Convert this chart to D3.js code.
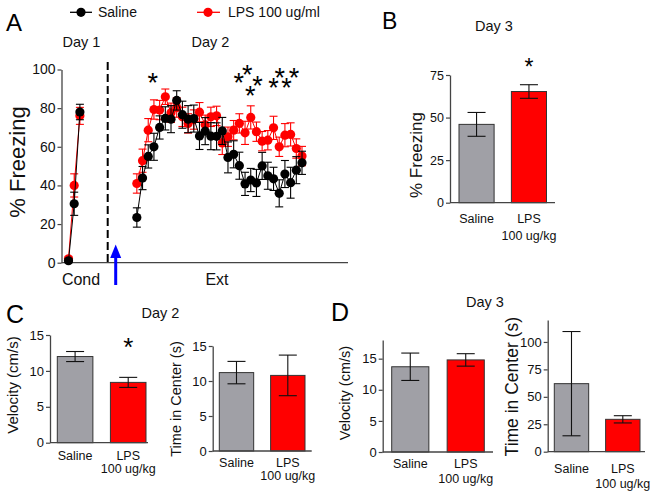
<!DOCTYPE html>
<html>
<head>
<meta charset="utf-8">
<script src="https://cdn.jsdelivr.net/npm/d3@7/dist/d3.min.js"></script>
<style>
html,body{margin:0;padding:0;background:#fff;}
svg{display:block;font-family:"Liberation Sans",Arial,sans-serif;}
</style>
</head>
<body>
<svg id="chart" width="654" height="497"></svg>
<script>
// ---------- DATA ----------
// Panel A: conditioning (Day 1) and extinction (Day 2) freezing, %
const condSaline    = [1, 30.5, 78];
const condSalineErr = [1, 6, 4];
const condLPS       = [2, 40, 76];
const condLPSErr    = [1, 6, 4.4];
const extSaline = [23.4, 43.8, 55, 60, 70, 74.7, 74.3, 84, 76.6, 74.3, 74.6, 65.6, 68.1, 65.5, 65.4,
                   68.2, 54.5, 56.1, 50.2, 40.8, 42.8, 41.3, 50.1, 45, 43.4, 35.9, 45.9, 41.4, 47.9, 51.7];
const extSalineErr = [5, 6, 6, 7, 6, 6, 7, 5, 7, 7, 7, 7, 7, 7, 7,
                      7, 8, 7, 7, 6, 6, 7, 7, 7, 6, 7, 7, 8, 7, 6];
const extLPS = [41, 52.8, 68.6, 79.3, 79, 85.9, 77.6, 80.3, 75.5, 72.1, 74.1, 77.9, 71.4, 75.5, 76,
                62, 65.2, 68.6, 72.1, 67.2, 75.2, 67.8, 62.9, 63.4, 69.8, 60, 66, 66.4, 59.1, 55.2];
const extLPSErr = [5, 6, 6, 5, 5, 4, 5, 5, 5, 5, 5, 5, 5, 5, 5,
                   6, 5, 5, 5, 6, 6, 5, 5, 5, 6, 5, 6, 6, 5, 5];
const extStartIndex = 12;            // trial index of first extinction trial on shared x scale
const freezeTicks = [0, 20, 40, 60, 80, 100];
// significance stars in panel A: [trial index, % level]
const starsA = [[14.8, 96.3], [29.9, 96.3], [31.4, 100.3], [33.2, 94.9], [31.9, 89.4],
                [36.0, 93.7], [37.1, 98.9], [38.3, 93.7], [39.6, 98.9]];

// Bar panels
const groups = ["Saline", "LPS"];
const groupLabels = [["Saline"], ["LPS", "100 ug/kg"]];
const freezeDay3 = [46, 65.3],   freezeDay3Err = [7, 4];
const velDay2    = [12, 8.4],    velDay2Err    = [0.7, 0.7];
const centerDay2 = [11.2, 10.8], centerDay2Err = [1.6, 2.9];
const velDay3    = [13.7, 14.8], velDay3Err    = [2.2, 1.0];
const centerDay3 = [62, 29.5],   centerDay3Err = [47.5, 3.3];
const ticksB  = [0, 25, 50, 75];
const ticks15 = [0, 5, 10, 15];
const ticksDR = [0, 25, 50, 75, 100];

// ---------- STYLE ----------
const AX = "#444";
const RED = "#ff0000";
const GRAY = "#a0a0a6";
const svg = d3.select("#chart");

function txt(x, y, s, size, anchor = "middle", fill = "#111") {
  return svg.append("text").attr("x", x).attr("y", y).attr("font-size", size)
    .attr("text-anchor", anchor).attr("fill", fill).text(s);
}
function ylabel(x, cy, s, size) {
  svg.append("text").attr("transform", `translate(${x},${cy}) rotate(-90)`)
    .attr("text-anchor", "middle").attr("font-size", size).attr("fill", "#111").text(s);
}
function styleAxis(g, fs) {
  g.select(".domain").attr("stroke", AX).attr("stroke-width", 1.3);
  g.selectAll(".tick line").attr("stroke", AX).attr("stroke-width", 1.2);
  g.selectAll(".tick text").attr("font-size", fs).attr("fill", "#111")
    .attr("font-family", '"Liberation Sans",Arial,sans-serif');
}

// ---------- PANEL A ----------
const xA = d3.scaleLinear().domain([0, 41]).range([68.5, 302]);
const yA = d3.scaleLinear().domain([0, 100]).range([262.7, 69.5]);

const gYA = svg.append("g").attr("transform", "translate(61.5,0)")
  .call(d3.axisLeft(yA).tickValues(freezeTicks).tickSize(4).tickSizeOuter(0).tickPadding(2));
styleAxis(gYA, 14);
svg.append("line").attr("x1", 61.5).attr("x2", 348).attr("y1", yA(0)).attr("y2", yA(0))
  .attr("stroke", AX).attr("stroke-width", 1.3);

// dashed separator and arrow
svg.append("line").attr("x1", 107.7).attr("x2", 107.7).attr("y1", 62).attr("y2", yA(0))
  .attr("stroke", "#000").attr("stroke-width", 2).attr("stroke-dasharray", "8,4");
svg.append("line").attr("x1", 115.7).attr("x2", 115.7).attr("y1", 257).attr("y2", 285)
  .attr("stroke", "#0000ff").attr("stroke-width", 3);
svg.append("path").attr("d", "M110.2,258 L121.2,258 L115.7,244.5 Z").attr("fill", "#0000ff");

function seriesA(vals, errs, offset, color, capColor) {
  const pts = vals.map((v, i) => ({x: xA(i + offset), y: yA(v), lo: yA(v - errs[i]), hi: yA(v + errs[i])}));
  const g = svg.append("g");
  pts.forEach(p => {
    g.append("line").attr("x1", p.x).attr("x2", p.x).attr("y1", p.lo).attr("y2", p.hi).attr("stroke", capColor).attr("stroke-width", 1.1);
    g.append("line").attr("x1", p.x - 4).attr("x2", p.x + 4).attr("y1", p.lo).attr("y2", p.lo).attr("stroke", capColor).attr("stroke-width", 1.1);
    g.append("line").attr("x1", p.x - 4).attr("x2", p.x + 4).attr("y1", p.hi).attr("y2", p.hi).attr("stroke", capColor).attr("stroke-width", 1.1);
  });
  g.append("path").datum(pts).attr("d", d3.line().x(d => d.x).y(d => d.y))
    .attr("fill", "none").attr("stroke", capColor).attr("stroke-width", 1);
  g.selectAll("circle").data(pts).join("circle").attr("cx", d => d.x).attr("cy", d => d.y)
    .attr("r", 4.6).attr("fill", color);
}
seriesA(condLPS, condLPSErr, 0, RED, RED);
seriesA(extLPS, extLPSErr, extStartIndex, RED, RED);
seriesA(condSaline, condSalineErr, 0, "#000", "#000");
seriesA(extSaline, extSalineErr, extStartIndex, "#000", "#000");

starsA.forEach(s => txt(xA(s[0]), yA(s[1]) + 15.5, "*", 27, "middle", "#000"));

ylabel(25, 162, "% Freezing", 22);
txt(81.5, 47, "Day 1", 14.5);
txt(210.5, 47, "Day 2", 14.5);
txt(81, 285, "Cond", 16);
txt(217, 285, "Ext", 16);
txt(6, 30.7, "A", 24, "start", "#000");

// legend
svg.append("line").attr("x1", 70).attr("x2", 92).attr("y1", 12.3).attr("y2", 12.3).attr("stroke", "#000").attr("stroke-width", 1.3);
svg.append("circle").attr("cx", 81).attr("cy", 12.3).attr("r", 4.6).attr("fill", "#000");
txt(98, 17, "Saline", 14, "start");
svg.append("line").attr("x1", 197).attr("x2", 220).attr("y1", 12.3).attr("y2", 12.3).attr("stroke", RED).attr("stroke-width", 1.3);
svg.append("circle").attr("cx", 208).attr("cy", 12.3).attr("r", 4.6).attr("fill", RED);
txt(228, 17, "LPS 100 ug/ml", 14, "start");

// ---------- BAR PANELS ----------
function barPanel(c) {
  const x = d3.scaleBand().domain(groups).range(c.bars).paddingInner(0.33).paddingOuter(0);
  const y = d3.scaleLinear().domain([0, c.max]).range(c.yr);
  const g = svg.append("g");
  groups.forEach((gname, i) => {
    const bx = x(gname), bw = x.bandwidth(), cx = bx + bw / 2;
    g.append("rect").attr("x", bx).attr("y", y(c.vals[i])).attr("width", bw)
      .attr("height", y(0) - y(c.vals[i])).attr("fill", i === 0 ? GRAY : RED)
      .attr("stroke", "#333").attr("stroke-width", 1);
    const lo = y(c.vals[i] - c.errs[i]), hi = y(c.vals[i] + c.errs[i]);
    g.append("line").attr("x1", cx).attr("x2", cx).attr("y1", lo).attr("y2", hi).attr("stroke", "#111").attr("stroke-width", 1.1);
    [lo, hi].forEach(yy => g.append("line").attr("x1", cx - 9).attr("x2", cx + 9).attr("y1", yy).attr("y2", yy).attr("stroke", "#111").attr("stroke-width", 1.1));
    groupLabels[i].forEach((s, k) => txt(cx, c.lab[k], s, 12.5));
  });
  const ga = svg.append("g").attr("transform", `translate(${c.axisX},0)`)
    .call(d3.axisLeft(y).tickValues(c.ticks).tickSize(4).tickSizeOuter(0).tickPadding(2));
  styleAxis(ga, c.tickFs);
  svg.append("line").attr("x1", c.axisX).attr("x2", c.axisEnd).attr("y1", y(0)).attr("y2", y(0))
    .attr("stroke", AX).attr("stroke-width", 1.3);
  ylabel(c.ylx, c.yly, c.ylab, c.ylfs);
  if (c.star) txt(x(groups[1]) + x.bandwidth() / 2, c.star, "*", c.starFs, "middle", "#000");
}

// B
barPanel({bars: [459, 546.5], yr: [202.7, 75], max: 75, ticks: ticksB, vals: freezeDay3, errs: freezeDay3Err,
  axisX: 450, axisEnd: 555, lab: [222.7, 240], ylab: "% Freezing", ylx: 422, yly: 155, ylfs: 17, tickFs: 12.5,
  star: 74.5, starFs: 23});
txt(382, 29.3, "B", 23, "start", "#000");
txt(494, 31, "Day 3", 14.5);

// C left
barPanel({bars: [57.3, 146], yr: [442.7, 335], max: 15, ticks: ticks15, vals: velDay2, errs: velDay2Err,
  axisX: 50, axisEnd: 148, lab: [460, 472.7], ylab: "Velocity (cm/s)", ylx: 18, yly: 385, ylfs: 15, tickFs: 13,
  star: 356, starFs: 26});
// C right
barPanel({bars: [219.3, 305], yr: [451, 346], max: 15, ticks: ticks15, vals: centerDay2, errs: centerDay2Err,
  axisX: 212.7, axisEnd: 311.7, lab: [466.7, 480], ylab: "Time in Center (s)", ylx: 180.5, yly: 399, ylfs: 14.5, tickFs: 13});
txt(6, 323, "C", 25, "start", "#000");
txt(160.5, 318.3, "Day 2", 14.5);

// D left
barPanel({bars: [391.7, 484.3], yr: [452, 340], max: 18, ticks: ticks15, vals: velDay3, errs: velDay3Err,
  axisX: 382.7, axisEnd: 493, lab: [468.3, 483.3], ylab: "Velocity (cm/s)", ylx: 350, yly: 393, ylfs: 14.5, tickFs: 13});
// D right
barPanel({bars: [554.3, 640], yr: [451.7, 320], max: 120, ticks: ticksDR, vals: centerDay3, errs: centerDay3Err,
  axisX: 547.7, axisEnd: 645, lab: [473.3, 488.3], ylab: "Time in Center (s)", ylx: 518, yly: 386.7, ylfs: 17.5, tickFs: 13});
txt(331, 321, "D", 25, "start", "#000");
txt(485, 306.5, "Day 3", 14.5);
</script>
</body>
</html>
